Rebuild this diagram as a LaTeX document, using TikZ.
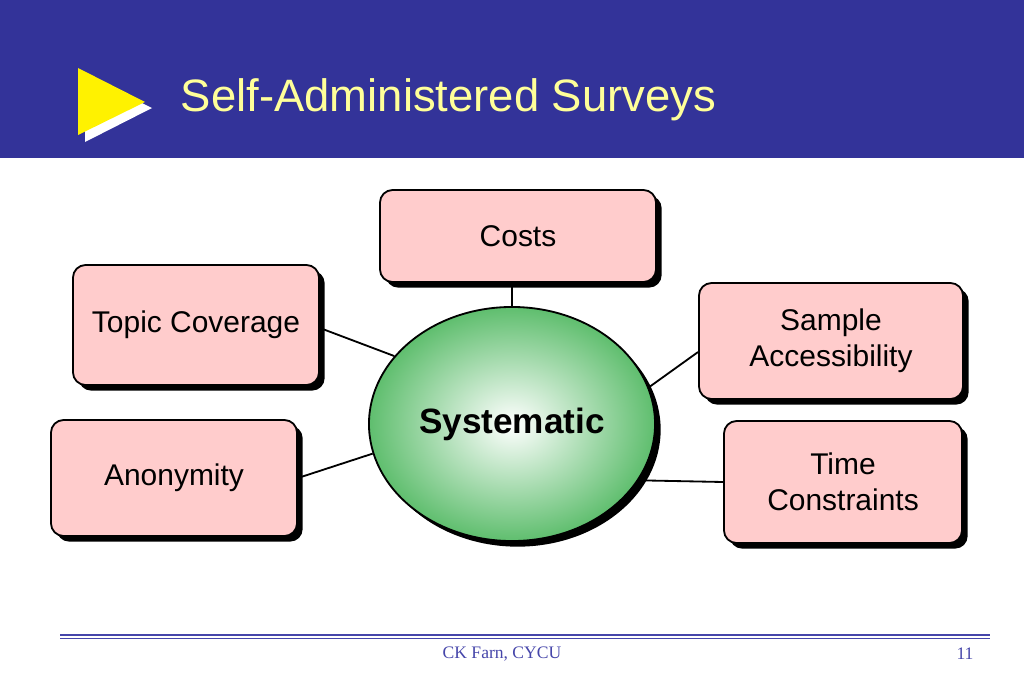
\documentclass[tikz,border=0pt]{standalone}
\usepackage{fontspec}
\setmainfont{Liberation Sans}
\newfontfamily\footfont{Liberation Serif}
\usetikzlibrary{shadows, shapes.geometric}
\definecolor{bandblue}{RGB}{51,51,153}
\definecolor{titleyellow}{RGB}{255,255,153}
\definecolor{boxpink}{RGB}{255,204,204}
\definecolor{ovalgreen}{RGB}{95,190,110}
\definecolor{lineblue}{RGB}{70,70,170}
\begin{document}
\begin{tikzpicture}[x=0.025cm, y=-0.025cm,
    topic/.style={rectangle, rounded corners=9pt, draw, line width=1.3pt, fill=boxpink, align=center,
        font=\fontsize{21.3}{25.5}\selectfont, inner sep=0pt,
        drop shadow={shadow xshift=4pt, shadow yshift=-4pt, opacity=1, fill=black}},
    link/.style={line width=1.3pt}]
    \useasboundingbox (0,0) rectangle (1024,683);
    % header
    \fill[bandblue] (0,0) rectangle (1024,158);
    \fill[white] (85,75) -- (85,142) -- (152,108) -- cycle;
    \fill[yellow] (78,68) -- (78,135) -- (145,102) -- cycle;
    \node[anchor=west, text=titleyellow, font=\fontsize{32.3}{38}\selectfont] (title) at (176,100) {Self-Administered Surveys};
    % centre
    \node[ellipse, draw, line width=1.3pt, inner sep=0pt,
        minimum width=7.15cm, minimum height=5.85cm, inner color=white, outer color=ovalgreen,
        drop shadow={shadow xshift=4pt, shadow yshift=-4pt, opacity=1, fill=black},
        font=\bfseries\fontsize{25}{30}\selectfont] (sys) at (512,424) {Systematic};
    % boxes
    \node[topic, minimum width=6.9cm, minimum height=2.3cm] (costs) at (518,236) {Costs};
    \node[topic, minimum width=6.15cm, minimum height=3cm] (cover) at (196,325) {Topic Coverage};
    \node[topic, minimum width=6.6cm, minimum height=2.9cm] (sample) at (831,341) {Sample\\Accessibility};
    \node[topic, minimum width=6.15cm, minimum height=2.9cm] (anon) at (174,478) {Anonymity};
    \node[topic, minimum width=5.95cm, minimum height=3.05cm] (time) at (843,482) {Time\\Constraints};
    % links
    \draw[link] (costs.south -| 512,0) -- (sys.north);
    \draw[link] (cover.east |- 0,328) -- (sys.150);
    \draw[link] (sample.west |- 0,352) -- (sys.15);
    \draw[link] (anon.east) -- (sys.192);
    \draw[link] (time.west) -- (sys.-24);
    % footer
    \draw[lineblue, line width=1pt] (60,635) coordinate (fl) -- (990,635) coordinate (fr);
    \draw[lineblue, line width=0.6pt] (60,638.5) -- (990,638.5);
    \node[font=\footfont\fontsize{12.5}{15}\selectfont, text=lineblue] (foot) at (502,654) {CK Farn, CYCU};
    \node[font=\footfont\fontsize{12.5}{15}\selectfont, text=lineblue] (page) at (965,654) {11};
\end{tikzpicture}
\end{document}
